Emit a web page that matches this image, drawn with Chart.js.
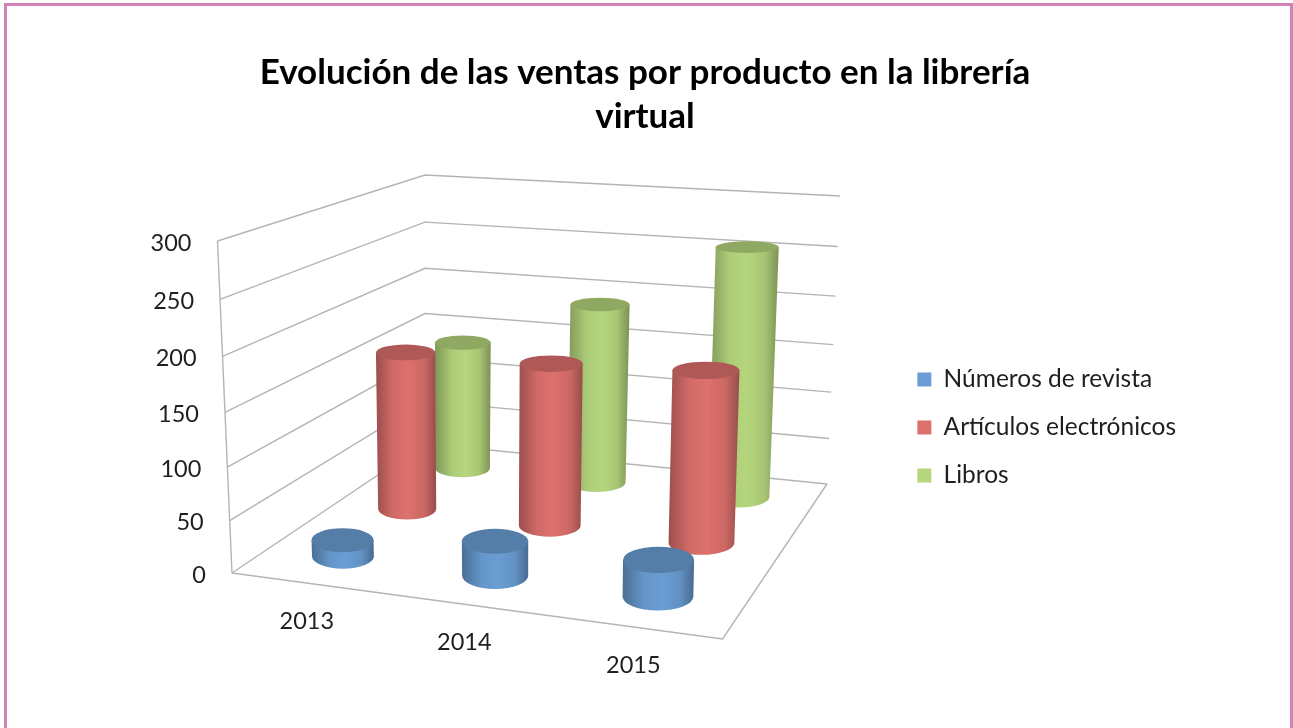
<!DOCTYPE html>
<html lang="es">
<head>
<meta charset="utf-8">
<title>Evolución de las ventas</title>
<script src="https://cdn.jsdelivr.net/npm/chart.js@4"></script>
<style>
    html, body { margin: 0; height: 100%; background: #fff; overflow: hidden; }
    #marco { position: absolute; left: 4px; top: 3px; width: 1283px; height: 800px; border: 3px solid #d281b4; }
    #myChart { position: absolute; left: 0; top: 0; filter: blur(0.4px); }
</style>
</head>
<body>
<canvas id="myChart" width="1293" height="728"></canvas>
<div id="marco"></div>
<script>
const categorias = ['2013', '2014', '2015'];
const numerosRevista = [16, 33, 34];
const articulosElectronicos = [161, 162, 168];
const libros = [139, 190, 257];
const valorMaximo = 300;
const pasoEje = 50;

const colorRevista = '#6a9ed4';
const colorArticulos = '#dd716d';
const colorLibros = '#b5d67d';
const colorRejilla = '#b4b4b4';
const fuente = 'Lato';

// esquinas de la caja en pantalla: delante-izq, delante-der, fondo-der, fondo-izq
const sueloCaja = [[232, 573], [722.5, 639], [827, 484], [425, 443.5]];
const techoCaja = [[217.5, 241], [730, 275], [840, 196], [425, 175]];
const curvaVertical = 0.064;
const radioCat = 0.07;
const radioFondo = 0.08;

function homografia(q) {
    const [p0, p1, p2, p3] = q;
    const dx1 = p1[0] - p2[0], dx2 = p3[0] - p2[0], sx = p0[0] - p1[0] + p2[0] - p3[0];
    const dy1 = p1[1] - p2[1], dy2 = p3[1] - p2[1], sy = p0[1] - p1[1] + p2[1] - p3[1];
    const det = dx1 * dy2 - dx2 * dy1;
    const g = (sx * dy2 - dx2 * sy) / det;
    const h = (dx1 * sy - sx * dy1) / det;
    return function (u, v) {
        const w = g * u + h * v + 1;
        return [
            ((p1[0] - p0[0] + g * p1[0]) * u + (p3[0] - p0[0] + h * p3[0]) * v + p0[0]) / w,
            ((p1[1] - p0[1] + g * p1[1]) * u + (p3[1] - p0[1] + h * p3[1]) * v + p0[1]) / w
        ];
    };
}

const suelo = homografia(sueloCaja);
const techo = homografia(techoCaja);

// c: a lo ancho, d: hacia el fondo, t: altura, todo de 0 a 1
function proyectar(c, d, t) {
    const a = suelo(c, d);
    const b = techo(c, d);
    const f = t - curvaVertical * t * (1 - t);
    return { x: a[0] + (b[0] - a[0]) * f, y: a[1] + (b[1] - a[1]) * f };
}

function tono(hex, k) {
    const n = parseInt(hex.slice(1), 16);
    const r = Math.round(((n >> 16) & 255) * k);
    const g = Math.round(((n >> 8) & 255) * k);
    const b = Math.round((n & 255) * k);
    return `rgb(${r},${g},${b})`;
}

function linea(ctx, puntos) {
    ctx.beginPath();
    puntos.forEach(function (p, i) {
        if (i == 0) ctx.moveTo(p.x, p.y);
        else ctx.lineTo(p.x, p.y);
    });
    ctx.stroke();
}

function alturaEje(chart, valor) {
    const y = chart.scales.y;
    return (y.bottom - y.getPixelForValue(valor)) / (y.bottom - y.top);
}

function cilindro(ctx, c, d, t, color) {
    const base = proyectar(c, d, 0);
    const cima = proyectar(c, d, t);
    const rxBase = (proyectar(c + radioCat, d, 0).x - proyectar(c - radioCat, d, 0).x) / 2;
    const rxCima = (proyectar(c + radioCat, d, t).x - proyectar(c - radioCat, d, t).x) / 2;
    const ryBase = (proyectar(c, d - radioFondo, 0).y - proyectar(c, d + radioFondo, 0).y) / 2;
    const ryCima = (proyectar(c, d - radioFondo, t).y - proyectar(c, d + radioFondo, t).y) / 2;

    const izq = Math.min(base.x - rxBase, cima.x - rxCima);
    const der = Math.max(base.x + rxBase, cima.x + rxCima);
    const grad = ctx.createLinearGradient(izq, 0, der, 0);
    grad.addColorStop(0, tono(color, 0.7));
    grad.addColorStop(0.3, tono(color, 0.95));
    grad.addColorStop(0.55, tono(color, 1));
    grad.addColorStop(0.8, tono(color, 0.92));
    grad.addColorStop(1, tono(color, 0.68));

    ctx.beginPath();
    ctx.moveTo(cima.x - rxCima, cima.y);
    ctx.lineTo(base.x - rxBase, base.y);
    ctx.ellipse(base.x, base.y, rxBase, ryBase, 0, Math.PI, 0, true);
    ctx.lineTo(cima.x + rxCima, cima.y);
    ctx.closePath();
    ctx.fillStyle = grad;
    ctx.fill();

    ctx.beginPath();
    ctx.ellipse(cima.x, cima.y, rxCima, ryCima, 0, 0, Math.PI * 2);
    ctx.fillStyle = tono(color, 0.79);
    ctx.fill();
}

const caja3d = {
    id: 'caja3d',
    beforeDatasetsDraw(chart) {
        const ctx = chart.ctx;
        ctx.save();
        ctx.strokeStyle = colorRejilla;
        ctx.lineWidth = 1.4;
        ctx.lineJoin = 'miter';
        chart.scales.y.ticks.forEach(function (tick) {
            const t = alturaEje(chart, tick.value);
            linea(ctx, [proyectar(0, 0, t), proyectar(0, 1, t), proyectar(1, 1, t)]);
        });
        // aristas y suelo
        linea(ctx, [proyectar(0, 0, 0), proyectar(0, 0, 1)]);
        linea(ctx, [proyectar(0, 0, 0), proyectar(1, 0, 0), proyectar(1, 1, 0)]);

        // textos de los ejes
        ctx.fillStyle = '#1f1f1f';
        ctx.font = '23.5px ' + fuente;
        ctx.textBaseline = 'middle';
        ctx.textAlign = 'right';
        chart.scales.y.ticks.forEach(function (tick) {
            const p = proyectar(0, 0, alturaEje(chart, tick.value));
            ctx.fillText(tick.label, p.x - 26, p.y + 2);
        });
        ctx.textAlign = 'center';
        const x = chart.scales.x;
        categorias.forEach(function (cat, i) {
            const p = proyectar((x.getPixelForValue(i) - x.left) / x.width, 0, 0);
            ctx.fillText(cat, p.x, p.y + 38);
        });
        ctx.restore();
    },
    // cada serie se pinta como cilindros en su propia fila de profundidad
    beforeDatasetDraw(chart, args) {
        const ctx = chart.ctx;
        const x = chart.scales.x;
        const serie = chart.data.datasets[args.index];
        const d = (args.index + 0.5) / chart.data.datasets.length;
        ctx.save();
        serie.data.forEach(function (valor, i) {
            const c = (x.getPixelForValue(i) - x.left) / x.width;
            cilindro(ctx, c, d, alturaEje(chart, valor), serie.backgroundColor);
        });
        ctx.restore();
        return false;
    }
};

const grafico = document.getElementById('myChart');

new Chart(grafico, {
    type: 'bar',
    data: {
        labels: categorias,
        datasets: [{
            label: 'Números de revista',
            backgroundColor: colorRevista,
            data: numerosRevista
        },
        {
            label: 'Artículos electrónicos',
            backgroundColor: colorArticulos,
            data: articulosElectronicos
        },
        {
            label: 'Libros',
            backgroundColor: colorLibros,
            data: libros
        }]
    },
    options: {
        responsive: false,
        animation: false,
        layout: {
            padding: { top: 30, right: 107, bottom: -97, left: 104 }
        },
        plugins: {
            title: {
                display: true,
                text: ['Evolución de las ventas por producto en la librería', 'virtual'],
                color: '#000',
                font: { family: fuente, size: 35, weight: 'bold', lineHeight: 1.26 },
                padding: { top: 21, bottom: 20 }
            },
            legend: {
                position: 'right',
                maxWidth: 320,
                labels: {
                    color: '#1f1f1f',
                    boxWidth: 14,
                    boxHeight: 14,
                    padding: 23.5,
                    font: { family: fuente, size: 24.5 }
                }
            },
            tooltip: { enabled: false }
        },
        scales: {
            x: {
                ticks: { display: false },
                grid: { display: false },
                border: { display: false }
            },
            y: {
                min: 0,
                max: valorMaximo,
                ticks: { display: false, stepSize: pasoEje },
                grid: { display: false },
                border: { display: false }
            }
        }
    },
    plugins: [caja3d]
});
</script>
</body>
</html>
